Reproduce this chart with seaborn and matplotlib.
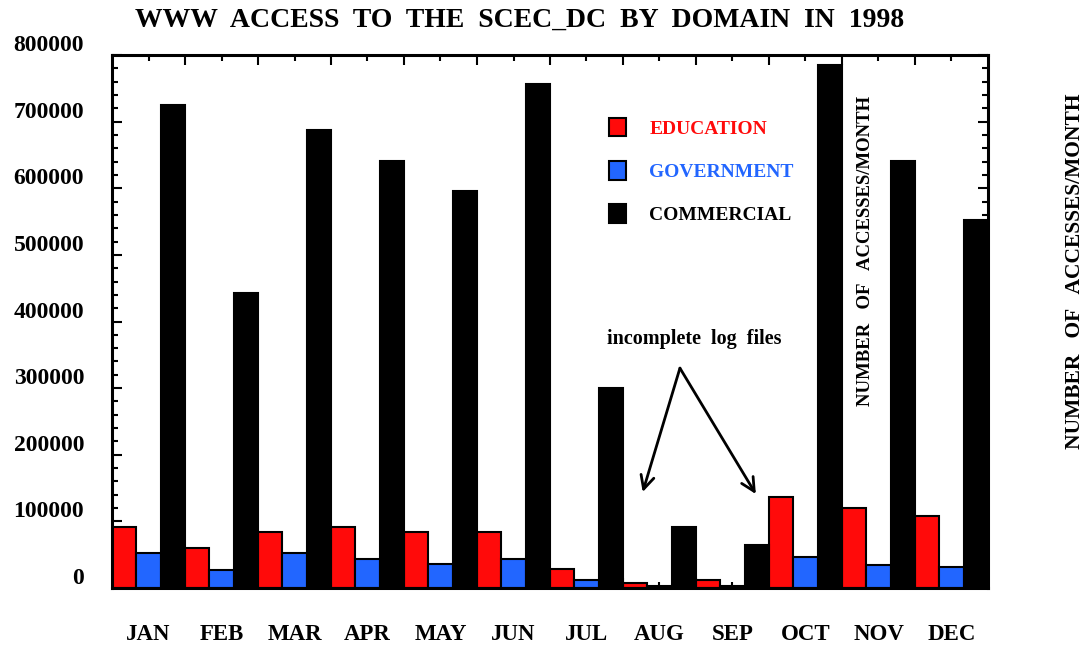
import numpy as np
import pandas as pd
import matplotlib
matplotlib.use("Agg")
import matplotlib.pyplot as plt
import matplotlib.transforms as mtransforms
from matplotlib.patches import Patch
from matplotlib.ticker import MultipleLocator, FixedLocator
import seaborn as sns

# ---------------- data ----------------
months = ["JAN", "FEB", "MAR", "APR", "MAY", "JUN",
          "JUL", "AUG", "SEP", "OCT", "NOV", "DEC"]
domains = ["EDUCATION", "GOVERNMENT", "COMMERCIAL"]
education = [92000, 59600, 83600, 92000, 83600, 83600,
             28000, 8000, 12000, 136000, 119600, 108000]
government = [52000, 27000, 52000, 44000, 36000, 44000,
              12000, 3000, 3000, 47000, 34500, 32000]
commercial = [725000, 443000, 687000, 641000, 596000, 756000,
              300000, 92000, 64500, 785000, 641000, 552000]
ytick_values = [0, 100000, 200000, 300000, 400000, 500000, 600000, 700000, 800000]
ytick_labels = [str(v) for v in ytick_values]
colors = ["#ff0a0a", "#2266ff", "#000000"]

df = pd.DataFrame({
    "month": months * 3,
    "domain": np.repeat(domains, len(months)),
    "value": education + government + commercial,
})

sns.set_theme(style="white")
plt.rcParams["font.family"] = ["Liberation Serif", "DejaVu Serif"]
plt.rcParams["font.weight"] = "bold"
plt.rcParams["text.color"] = "black"
plt.rcParams["xtick.color"] = "black"
plt.rcParams["ytick.color"] = "black"
plt.rcParams["axes.labelcolor"] = "black"

fig = plt.figure(figsize=(10.91, 6.49), dpi=100)
ax = fig.add_axes([112 / 1091, 61 / 649, 876 / 1091, 533 / 649])

sns.barplot(data=df, x="month", y="value", hue="domain", order=months,
            hue_order=domains, palette=dict(zip(domains, colors)),
            width=1.0, gap=0, saturation=1, errorbar=None,
            edgecolor="black", linewidth=1.5, legend=False, ax=ax)

ax.set_xlim(-0.5, len(months) - 0.5)
ax.set_ylim(0, 800000)
ax.set_xlabel("")
ax.set_ylabel("")

for s in ax.spines.values():
    s.set_visible(True)
    s.set_color("black")
    s.set_linewidth(2.2)

# x ticks
ax.set_xticks(range(len(months)))
ax.set_xticklabels(months, fontsize=16.5, fontweight="bold", color="black")
ax.xaxis.set_minor_locator(FixedLocator(np.arange(0.5, len(months) - 0.5, 1.0)))
ax.tick_params(axis="x", which="major", direction="in", length=4, width=1.5,
               top=True, bottom=True, pad=26, colors="black")
ax.tick_params(axis="x", which="minor", direction="in", length=7, width=1.5,
               top=True, bottom=True, colors="black")

# y ticks
ax.set_yticks(ytick_values)
ax.set_yticklabels(ytick_labels, fontsize=17, fontweight="bold", color="black")
ax.yaxis.set_minor_locator(MultipleLocator(20000))
ax.tick_params(axis="y", which="major", direction="in", length=7, width=1.5,
               left=True, right=True, pad=20, colors="black")
ax.tick_params(axis="y", which="minor", direction="in", length=4, width=1.5,
               left=True, right=True, colors="black")

# the y tick labels sit a little above their ticks in the original
offset = mtransforms.ScaledTranslation(0, 0.12, fig.dpi_scale_trans)
for tick in ax.yaxis.get_major_ticks():
    tick.label1.set_transform(tick.label1.get_transform() + offset)

# legend
handles = [Patch(facecolor=c, edgecolor="black", linewidth=1.5) for c in colors]
ax.legend(handles=handles, labels=domains, labelcolor=colors, frameon=False,
          loc="upper left", bbox_to_anchor=(0.559, 0.897), borderaxespad=0,
          handlelength=0.85, handleheight=1.1, handletextpad=1.2,
          labelspacing=1.2, prop={"weight": "bold", "size": 14})

# annotation
ax.text(7.47, 374000, "incomplete  log  files", ha="center", va="center",
        fontsize=14.5, fontweight="bold", color="black")
for end in [(6.77, 144000), (8.32, 141000)]:
    ax.annotate("", xy=end, xytext=(7.28, 330000),
                arrowprops=dict(arrowstyle="->", lw=2, color="black",
                                mutation_scale=24, shrinkA=0, shrinkB=0))

# inner rotated label
ax.text(9.82, 506000, "NUMBER   OF   ACCESSES/MONTH", rotation=90,
        ha="center", va="center", fontsize=13.5, fontweight="bold", color="black")

# right-hand label and title
fig.text(1075 / 1091, 1 - 271 / 649, "NUMBER   OF   ACCESSES/MONTH", rotation=90,
         ha="center", va="center", fontsize=15.5, fontweight="bold", color="black")
fig.text(520 / 1091, 1 - 20 / 649, "WWW  ACCESS  TO  THE  SCEC_DC  BY  DOMAIN  IN  1998",
         ha="center", va="center", fontsize=20, fontweight="bold", color="black")

fig.savefig("out.png", dpi=100)
